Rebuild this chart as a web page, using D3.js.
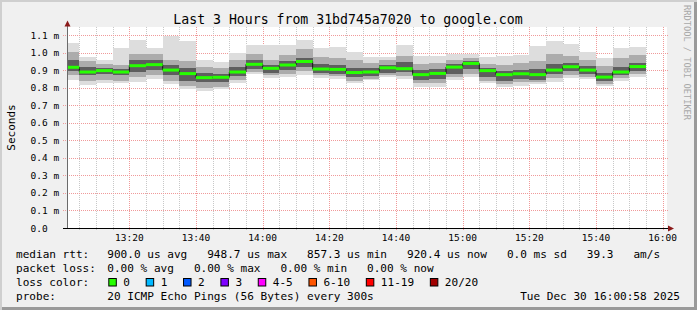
<!DOCTYPE html>
<html><head><meta charset="utf-8">
<script src="https://cdn.jsdelivr.net/npm/d3@7"></script>
<style>
body{margin:0;background:#fff}
svg text{font-family:"DejaVu Sans Mono",monospace;white-space:pre}
</style></head><body>
<script>
"use strict";
// 5-minute bins, labelled by bin end time
var binEnd = ["13:05","13:10","13:15","13:20","13:25","13:30","13:35","13:40","13:45","13:50","13:55",
  "14:00","14:05","14:10","14:15","14:20","14:25","14:30","14:35","14:40","14:45","14:50","14:55",
  "15:00","15:05","15:10","15:15","15:20","15:25","15:30","15:35","15:40","15:45","15:50","15:55"];
// values in ms
var smokeMax = [1.056,0.977,0.957,1.028,1.071,1.028,1.096,1.066,0.957,0.945,0.999,1.043,1.043,1.043,1.071,1.028,1.030,1.002,
  0.975,0.975,1.043,0.978,0.979,0.993,0.991,0.972,0.980,0.986,1.037,1.066,1.049,1.004,0.967,1.024,1.031];
var hi1 = [1.005,0.950,0.935,0.930,0.990,0.990,0.960,0.950,0.920,0.910,0.955,0.990,0.960,0.985,1.020,0.975,0.970,0.955,
  0.940,0.955,0.980,0.935,0.940,0.960,0.970,0.935,0.930,0.940,0.950,0.990,0.980,0.960,0.925,0.970,0.985];
var hi2 = [0.957,0.915,0.910,0.905,0.955,0.955,0.930,0.910,0.885,0.875,0.915,0.955,0.930,0.950,0.970,0.935,0.930,0.910,
  0.910,0.930,0.945,0.900,0.905,0.935,0.950,0.910,0.895,0.900,0.905,0.935,0.940,0.925,0.885,0.920,0.940];
var median = [0.916,0.889,0.897,0.889,0.925,0.931,0.900,0.880,0.857,0.859,0.889,0.933,0.910,0.929,0.949,0.906,0.904,0.886,
  0.889,0.913,0.908,0.874,0.881,0.917,0.938,0.897,0.874,0.879,0.874,0.900,0.919,0.900,0.860,0.889,0.920];
var lo2 = [0.897,0.870,0.875,0.870,0.890,0.900,0.870,0.835,0.830,0.830,0.865,0.905,0.885,0.900,0.915,0.885,0.880,0.860,
  0.865,0.885,0.890,0.845,0.850,0.880,0.905,0.860,0.840,0.850,0.845,0.875,0.895,0.880,0.840,0.870,0.895];
var lo1 = [0.872,0.835,0.845,0.840,0.860,0.870,0.840,0.810,0.800,0.805,0.845,0.890,0.870,0.875,0.895,0.870,0.865,0.840,
  0.850,0.870,0.865,0.825,0.825,0.860,0.880,0.840,0.820,0.830,0.830,0.855,0.870,0.860,0.820,0.855,0.875];
var smokeMin = [0.845,0.815,0.828,0.825,0.834,0.849,0.819,0.790,0.783,0.790,0.828,0.876,0.857,0.862,0.872,0.857,0.847,0.825,
  0.845,0.862,0.848,0.806,0.802,0.842,0.862,0.825,0.806,0.810,0.818,0.834,0.855,0.848,0.810,0.837,0.860];

var yTicks = [0,0.1,0.2,0.3,0.4,0.5,0.6,0.7,0.8,0.9,1.0,1.1];
var titleText = "Last 3 Hours from 31bd745a7020 to google.com";
var rttLine = "900.0 us avg   948.7 us max   857.3 us min   920.4 us now   0.0 ms sd   39.3   am/s";
var lossLine = "0.00 % avg   0.00 % max   0.00 % min   0.00 % now";
var lossLabels = ["0","1","2","3","4-5","6-10","11-19","20/20"];
var lossColors = ["#26ff00","#00b8ff","#0059ff","#7e00ff","#ff00ff","#ff5500","#ff0000","#a10000"];
var probeText = "20 ICMP Echo Pings (56 Bytes) every 300s";
var stampText = "Tue Dec 30 16:00:58 2025";

var W = 697, H = 310;
var pLeft = 67, pRight = 667, pTop = 27, pBottom = 228;
var parseT = d3.timeParse("%Y-%m-%d %H:%M:%S");
function t(s){ return parseT("2025-12-30 " + (s.length == 5 ? s + ":00" : s)); }

var x = d3.scaleTime().domain([t("13:01:18"), t("16:01:18")]).range([pLeft, pRight]);
var y = d3.scaleLinear().domain([0, 1.1]).range([pBottom, 35]);

var svg = d3.select("body").append("svg").attr("width", W).attr("height", H);

// frame
svg.append("rect").attr("width", W).attr("height", H).attr("fill", "#cfcfcf");
svg.append("rect").attr("x", 2).attr("y", 2).attr("width", W-2).attr("height", H-2).attr("fill", "#9a9a9a");
svg.append("rect").attr("x", 2).attr("y", 2).attr("width", W-5).attr("height", H-5).attr("fill", "#f0f0f0");

svg.append("defs").append("clipPath").attr("id", "plot")
  .append("rect").attr("x", pLeft).attr("y", pTop).attr("width", pRight-pLeft).attr("height", pBottom-pTop);
svg.append("rect").attr("x", pLeft).attr("y", pTop).attr("width", pRight-pLeft).attr("height", pBottom-pTop).attr("fill", "#fff");

// grid
var minor = d3.timeMinute.every(5).range(x.domain()[0], x.domain()[1]);
var major = x.ticks(d3.timeMinute.every(20));
svg.append("g").selectAll("line").data(minor.filter(function(d){ return d.getMinutes() % 20 != 0; })).join("line")
  .attr("x1", function(d){ return Math.round(x(d)) + 0.5; }).attr("x2", function(d){ return Math.round(x(d)) + 0.5; })
  .attr("y1", pTop).attr("y2", pBottom + 2)
  .attr("stroke", "#c8c8c8").attr("stroke-dasharray", "1,1");
svg.append("g").selectAll("line").data(major).join("line")
  .attr("x1", function(d){ return Math.round(x(d)) + 0.5; }).attr("x2", function(d){ return Math.round(x(d)) + 0.5; })
  .attr("y1", pTop).attr("y2", pBottom + 3)
  .attr("stroke", "#f09a9a").attr("stroke-dasharray", "1,1");
svg.append("g").selectAll("line").data(yTicks.slice(1)).join("line")
  .attr("x1", pLeft - 4).attr("x2", pRight + 2)
  .attr("y1", function(d){ return Math.round(y(d)) + 0.5; }).attr("y2", function(d){ return Math.round(y(d)) + 0.5; })
  .attr("stroke", "#f09a9a").attr("stroke-dasharray", "1,1");

// smoke
var bins = binEnd.map(function(s, i){
  var e = t(s);
  return {x0: x(d3.timeMinute.offset(e, -5)), x1: x(e), i: i};
});
var smoke = svg.append("g").attr("clip-path", "url(#plot)");
var bands = [[smokeMax, smokeMin, "#dddddd"], [hi1, lo1, "#acacac"], [hi2, lo2, "#5e5e5e"]];
bands.forEach(function(b){
  smoke.append("g").selectAll("rect").data(bins).join("rect")
    .attr("x", function(d){ return d.x0; })
    .attr("width", function(d){ return d.x1 - d.x0; })
    .attr("y", function(d){ return y(b[0][d.i]); })
    .attr("height", function(d){ return y(b[1][d.i]) - y(b[0][d.i]); })
    .attr("fill", b[2]).attr("shape-rendering", "crispEdges");
});
var pts = [];
bins.forEach(function(d){ pts.push([d.x0, y(median[d.i])]); pts.push([d.x1, y(median[d.i])]); });
smoke.append("path").attr("d", d3.line()(pts)).attr("fill", "none").attr("stroke", "#111").attr("stroke-width", 1);
smoke.append("g").selectAll("rect").data(bins).join("rect")
  .attr("x", function(d){ return d.x0; })
  .attr("width", function(d){ return d.x1 - d.x0; })
  .attr("y", function(d){ return y(median[d.i]) - 1.5; })
  .attr("height", 3)
  .attr("fill", lossColors[0]);

// axes
svg.append("line").attr("x1", pLeft + 0.5).attr("x2", pLeft + 0.5).attr("y1", pBottom).attr("y2", 23)
  .attr("stroke", "#6b6b6b");
svg.append("line").attr("x1", pLeft - 4).attr("x2", 670).attr("y1", pBottom + 0.5).attr("y2", pBottom + 0.5)
  .attr("stroke", "#000");
svg.append("path").attr("d", "M64.5,26.5L70.5,26.5L67.5,20.5Z").attr("fill", "#8b1a1a");
svg.append("path").attr("d", "M668,225.5L668,231.5L674,228.5Z").attr("fill", "#8b1a1a");

svg.append("g").selectAll("text").data(yTicks).join("text")
  .attr("x", 30.5).attr("y", function(d){ return y(d) + 3.5; })
  .attr("font-size", 9.5)
  .text(function(d){ return d == 0 ? "0.0" : d3.format(".1f")(d) + " m"; });
svg.append("g").selectAll("text").data(major).join("text")
  .attr("x", function(d){ return x(d); }).attr("y", 241)
  .attr("text-anchor", "middle").attr("font-size", 9.5)
  .text(d3.timeFormat("%H:%M"));

// titles
svg.append("text").attr("x", 348).attr("y", 24).attr("text-anchor", "middle")
  .attr("font-size", 13.2).text(titleText);
svg.append("text").attr("transform", "translate(14.5,127.5) rotate(-90)").attr("text-anchor", "middle")
  .attr("font-size", 11).text("Seconds");
svg.append("text").attr("transform", "translate(684,5) rotate(90)")
  .attr("font-size", 8.7).attr("fill", "#a8a8a8").text("RRDTOOL / TOBI OETIKER");

// legend
var fs = 11.07, cw = 6.665, col2 = 107.3;
var rows = [["median rtt:", 258], ["packet loss:", 271.8], ["loss color:", 285.7], ["probe:", 299.7]];
rows.forEach(function(r){
  svg.append("text").attr("x", 16).attr("y", r[1]).attr("font-size", fs).text(r[0]);
});
svg.append("text").attr("x", col2).attr("y", 258).attr("font-size", fs).text(rttLine);
svg.append("text").attr("x", col2).attr("y", 271.8).attr("font-size", fs).text(lossLine);
svg.append("text").attr("x", col2).attr("y", 299.7).attr("font-size", fs).text(probeText);
svg.append("text").attr("x", 680).attr("y", 299.7).attr("text-anchor", "end").attr("font-size", fs).text(stampText);

var bx = 108.3;
lossLabels.forEach(function(l, i){
  svg.append("rect").attr("x", bx + 0.5).attr("y", 278.5).attr("width", 7.5).attr("height", 7.5)
    .attr("fill", lossColors[i]).attr("stroke", "#000");
  svg.append("text").attr("x", bx + 15).attr("y", 285.7).attr("font-size", fs).text(l);
  bx += 15 + l.length * cw + 15.7;
});
</script></body></html>
